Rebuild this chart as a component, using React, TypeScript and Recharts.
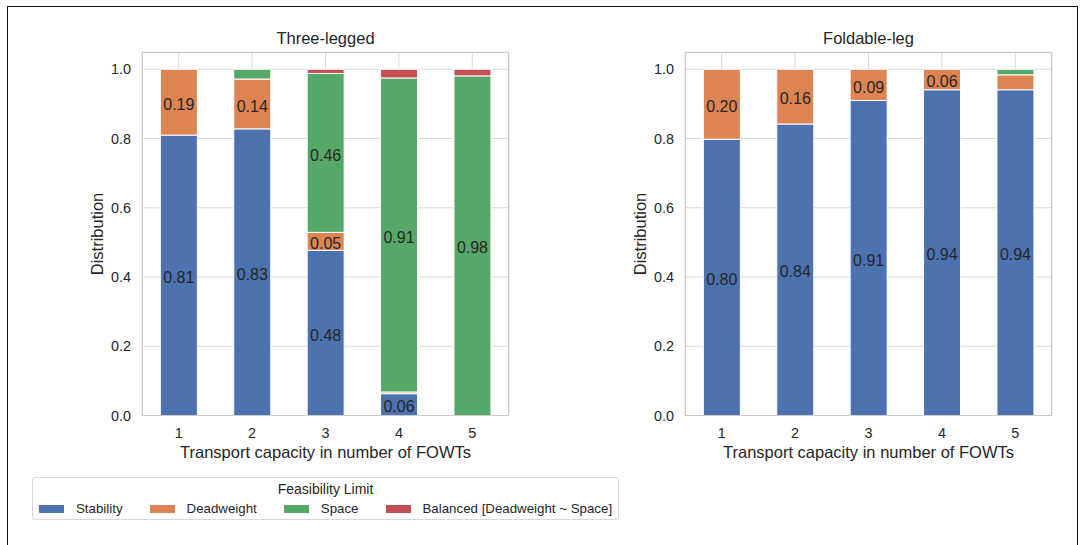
import * as React from "react";
import {
  BarChart,
  Bar,
  XAxis,
  YAxis,
  CartesianGrid,
  LabelList,
} from "recharts";

const categories = ["1", "2", "3", "4", "5"];

// Three-legged shares per transport capacity
const threeStability = [0.81, 0.828, 0.477, 0.063, 0];
const threeDeadweight = [0.19, 0.144, 0.052, 0.005, 0];
const threeSpace = [0, 0.028, 0.459, 0.907, 0.981];
const threeBalanced = [0, 0, 0.012, 0.025, 0.019];

// Foldable-leg shares per transport capacity
const foldStability = [0.798, 0.842, 0.91, 0.941, 0.941];
const foldDeadweight = [0.202, 0.158, 0.09, 0.059, 0.043];
const foldSpace = [0, 0, 0, 0, 0.016];
const foldBalanced = [0, 0, 0, 0, 0];

const yTicks = [0, 0.2, 0.4, 0.6, 0.8, 1.0];

const series = [
  { key: "stability", name: "Stability", color: "#4C72B0" },
  { key: "deadweight", name: "Deadweight", color: "#DD8452" },
  { key: "space", name: "Space", color: "#55A868" },
  { key: "balanced", name: "Balanced [Deadweight ~ Space]", color: "#C44E52" },
];

const FONT = '"Liberation Sans", Arial, sans-serif';
const TEXT = "#262626";

function buildRows(st: number[], dw: number[], sp: number[], bal: number[]) {
  return categories.map((c, i) => ({
    cat: c,
    stability: st[i],
    deadweight: dw[i],
    space: sp[i],
    balanced: bal[i],
  }));
}

const threeRows = buildRows(threeStability, threeDeadweight, threeSpace, threeBalanced);
const foldRows = buildRows(foldStability, foldDeadweight, foldSpace, foldBalanced);

// only label segments big enough to hold text
const fmt = (v: any) => (Number(v) >= 0.05 ? Number(v).toFixed(2) : "");

interface PanelProps {
  rows: Array<any>;
  left: number;
  marginLeft: number;
  marginRight: number;
}

function Panel({ rows, left, marginLeft, marginRight }: PanelProps) {
  return (
    <div style={{ position: "absolute", left, top: 0 }}>
      <BarChart
        width={540}
        height={470}
        data={rows}
        margin={{ top: 52, right: marginRight, left: marginLeft, bottom: 24.5 }}
        barCategoryGap="25%"
      >
        <CartesianGrid stroke="#dadada" strokeWidth={1} />
        <XAxis
          dataKey="cat"
          height={30}
          tickLine={false}
          axisLine={false}
          tickSize={0}
          tickMargin={12}
          tick={{ fill: TEXT, fontSize: 14.4, fontFamily: FONT }}
        />
        <YAxis
          width={50}
          domain={[0, 1.05]}
          ticks={yTicks}
          tickFormatter={(v) => Number(v).toFixed(1)}
          tickLine={false}
          axisLine={false}
          tickSize={0}
          tickMargin={11}
          tick={{ fill: TEXT, fontSize: 14.4, fontFamily: FONT }}
          allowDataOverflow
        />
        {series.map((s) => (
          <Bar
            key={s.key}
            dataKey={s.key}
            stackId="a"
            fill={s.color}
            stroke="#ffffff"
            strokeWidth={1}
            isAnimationActive={false}
          >
            <LabelList
              dataKey={s.key}
              position="center"
              formatter={fmt}
              fill={TEXT}
              fontSize={16}
              fontFamily={FONT}
              dy={2}
            />
          </Bar>
        ))}
      </BarChart>
    </div>
  );
}

function Txt({ x, y, size, children, rotate }: any) {
  return (
    <div
      style={{
        position: "absolute",
        left: x,
        top: y,
        transform: `translate(-50%, -50%)${rotate ? " rotate(-90deg)" : ""}`,
        fontFamily: FONT,
        fontSize: size,
        color: TEXT,
        whiteSpace: "nowrap",
        lineHeight: 1,
      }}
    >
      {children}
    </div>
  );
}

function Frame({ x }: { x: number }) {
  return (
    <div
      style={{
        position: "absolute",
        left: x,
        top: 52,
        width: 367,
        height: 363.5,
        boxSizing: "border-box",
        border: "1px solid #cccccc",
        pointerEvents: "none",
      }}
    />
  );
}

function Legend() {
  return (
    <div
      style={{
        position: "absolute",
        left: 32,
        top: 477,
        width: 587,
        height: 43,
        boxSizing: "border-box",
        border: "1px solid #d8d8d8",
        borderRadius: 3,
        fontFamily: FONT,
        color: TEXT,
        background: "#fff",
      }}
    >
      <div style={{ textAlign: "center", fontSize: 14, marginTop: 3, lineHeight: "16px" }}>
        Feasibility Limit
      </div>
      <div
        style={{
          display: "flex",
          alignItems: "center",
          marginTop: 4,
          marginLeft: 6,
          whiteSpace: "nowrap",
        }}
      >
        {series.map((s) => (
          <div
            key={s.key}
            style={{ display: "flex", alignItems: "center", marginRight: 27, flexShrink: 0 }}
          >
            <span
              style={{
                width: 25,
                height: 8,
                background: s.color,
                display: "inline-block",
                marginRight: 12,
                flexShrink: 0,
              }}
            />
            <span style={{ fontSize: 13.3, lineHeight: "16px" }}>{s.name}</span>
          </div>
        ))}
      </div>
    </div>
  );
}

export default function App() {
  return (
    <div
      style={{
        position: "absolute",
        left: 0,
        top: 0,
        width: 1083,
        height: 545,
        overflow: "hidden",
        background: "#ffffff",
      }}
    >
      <div
        style={{
          position: "absolute",
          left: 7,
          top: 6,
          width: 1071,
          height: 560,
          boxSizing: "border-box",
          border: "1.5px solid #111",
        }}
      />
      <Panel rows={threeRows} left={0} marginLeft={92} marginRight={31} />
      <Panel rows={foldRows} left={540} marginLeft={95} marginRight={28} />
      <Frame x={142} />
      <Frame x={685} />
      <Txt x={325.5} y={38} size={16.5}>Three-legged</Txt>
      <Txt x={868.5} y={38} size={16.5}>Foldable-leg</Txt>
      <Txt x={325.5} y={452} size={16.5}>Transport capacity in number of FOWTs</Txt>
      <Txt x={868.5} y={452} size={16.5}>Transport capacity in number of FOWTs</Txt>
      <Txt x={97} y={233.5} size={16.5} rotate>Distribution</Txt>
      <Txt x={640} y={233.5} size={16.5} rotate>Distribution</Txt>
      <Legend />
    </div>
  );
}
